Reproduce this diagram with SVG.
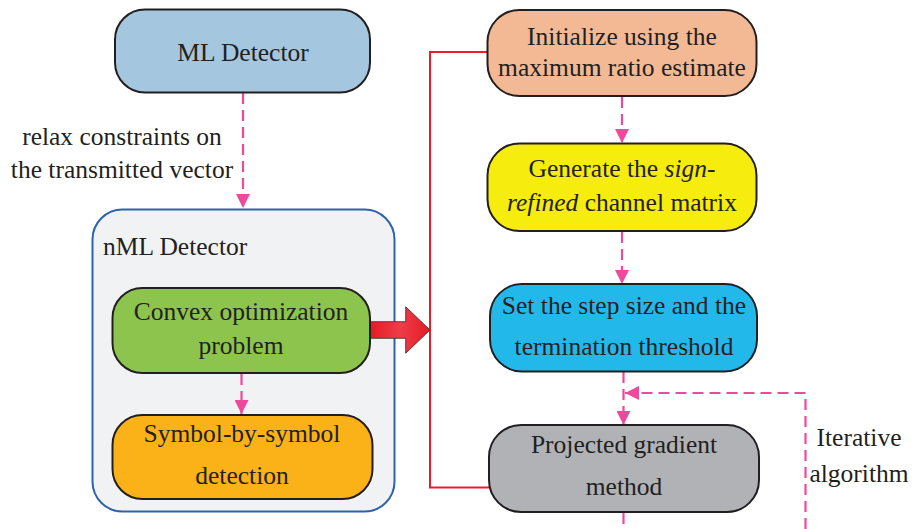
<svg xmlns="http://www.w3.org/2000/svg" width="912" height="529" viewBox="0 0 912 529">
<style>
.box{stroke:#231f20;stroke-width:2}
.t{font-family:"Liberation Serif","Times New Roman",serif;font-size:25.5px;fill:#231f20}
.m{text-anchor:middle}
.dash{fill:none;stroke:#ee4a9b;stroke-width:2.2;stroke-dasharray:11,6}
.red{fill:none;stroke:#ec1c2a;stroke-width:2}
</style>
<defs>
<marker id="ah" viewBox="0 0 14 14" refX="14" refY="7" markerWidth="14" markerHeight="14" markerUnits="userSpaceOnUse" orient="auto">
<path d="M0,0 L14,7 L0,14 Z" fill="#ee4a9b"/>
</marker>
<linearGradient id="rg" x1="0" y1="0" x2="1" y2="0">
<stop offset="0" stop-color="#e41b23"/>
<stop offset="0.5" stop-color="#ef3d4a"/>
<stop offset="1" stop-color="#e41b23"/>
</linearGradient>
</defs>

<g id="nml">
<rect x="92.5" y="209.5" width="302" height="302" rx="30" fill="#f1f2f4" stroke="#2f62ae" stroke-width="2"/>
<text class="t" x="103" y="255">nML Detector</text>
</g>

<g id="connectors">
<path class="dash" d="M243,93 V208" marker-end="url(#ah)"/>
<path class="dash" d="M241.5,374 V414" marker-end="url(#ah)"/>
<path class="dash" d="M622,97 V143" marker-end="url(#ah)"/>
<path class="dash" d="M622,232 V284" marker-end="url(#ah)"/>
<path class="dash" d="M623.5,372 V425" marker-end="url(#ah)"/>
<path class="dash" d="M623.5,513 V529"/>
<path class="dash" d="M805.5,529 V393 H625" marker-end="url(#ah)"/>
<path class="red" d="M487,52 H430 V487.5 H489"/>
<path d="M370,321.7 H405.7 V306.7 L430,330 L405.7,353.3 V338.3 H370 Z" fill="url(#rg)" stroke="#3a2a2a" stroke-width="0.8"/>
</g>

<g id="ml">
<rect class="box" x="115" y="9.5" width="255" height="83" rx="30" fill="#a5c6df"/>
<text class="t m" x="243" y="61">ML Detector</text>
</g>

<g id="relax-label">
<text class="t m" x="122" y="145">relax constraints on</text>
<text class="t m" x="122" y="178">the transmitted vector</text>
</g>

<g id="convex">
<rect class="box" x="112.5" y="288" width="257.5" height="85" rx="30" fill="#8dc44e"/>
<text class="t m" x="241" y="320">Convex optimization</text>
<text class="t m" x="241" y="354">problem</text>
</g>

<g id="symbol">
<rect class="box" x="112.5" y="415" width="260" height="84" rx="30" fill="#fbb118"/>
<text class="t m" x="242" y="442">Symbol-by-symbol</text>
<text class="t m" x="242" y="484">detection</text>
</g>

<g id="init">
<rect class="box" x="487.5" y="10" width="269" height="86" rx="32" fill="#f3b994"/>
<text class="t m" x="622" y="44.5">Initialize using the</text>
<text class="t m" x="622" y="76">maximum ratio estimate</text>
</g>

<g id="generate">
<rect class="box" x="487.5" y="143.5" width="269" height="87.5" rx="32" fill="#f6ec0d"/>
<text class="t m" x="622" y="177">Generate the <tspan font-style="italic">sign-</tspan></text>
<text class="t m" x="622" y="211"><tspan font-style="italic">refined</tspan> channel matrix</text>
</g>

<g id="step">
<rect class="box" x="490" y="284" width="267" height="87.5" rx="32" fill="#22b8ea"/>
<text class="t m" x="624" y="313.5">Set the step size and the</text>
<text class="t m" x="624" y="354.5">termination threshold</text>
</g>

<g id="pgm">
<rect class="box" x="489" y="425" width="270" height="87" rx="32" fill="#b1b2b6"/>
<text class="t m" x="624" y="453">Projected gradient</text>
<text class="t m" x="624" y="495">method</text>
</g>

<g id="iter-label">
<text class="t m" x="859" y="446">Iterative</text>
<text class="t m" x="859" y="482">algorithm</text>
</g>
</svg>
